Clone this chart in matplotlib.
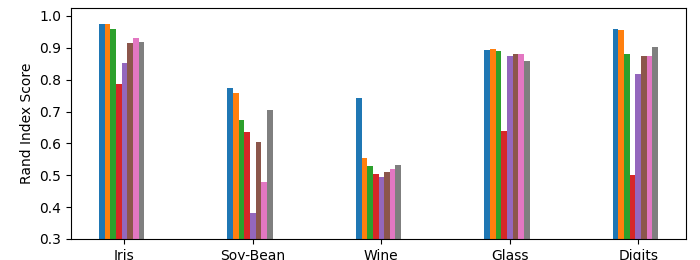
import numpy as np
import matplotlib
matplotlib.use("Agg")
import matplotlib.pyplot as plt

datasets = ["Iris", "Soy-Bean", "Wine", "Glass", "Digits"]

# one list per method (8 methods, tab10 colours in order)
m1 = [0.975, 0.774, 0.743, 0.893, 0.959]
m2 = [0.975, 0.759, 0.555, 0.897, 0.956]
m3 = [0.959, 0.674, 0.530, 0.890, 0.881]
m4 = [0.787, 0.636, 0.505, 0.639, 0.502]
m5 = [0.853, 0.382, 0.495, 0.875, 0.818]
m6 = [0.915, 0.605, 0.511, 0.881, 0.875]
m7 = [0.931, 0.480, 0.520, 0.881, 0.875]
m8 = [0.918, 0.705, 0.533, 0.859, 0.903]
methods = [m1, m2, m3, m4, m5, m6, m7, m8]

x = np.arange(len(datasets))
w = 0.044

fig, ax = plt.subplots(figsize=(7, 2.6), dpi=100)
fig.subplots_adjust(left=71/700, right=686/700, top=1-8/260, bottom=1-239/260)

for j, vals in enumerate(methods):
    ax.bar(x + (j - 4)*w, vals, w)

ax.set_ylim(0.3, 1.025)
ax.set_xticks(x)
ax.set_xticklabels(datasets)
ax.set_ylabel("Rand Index Score")

plt.savefig("out.png")
